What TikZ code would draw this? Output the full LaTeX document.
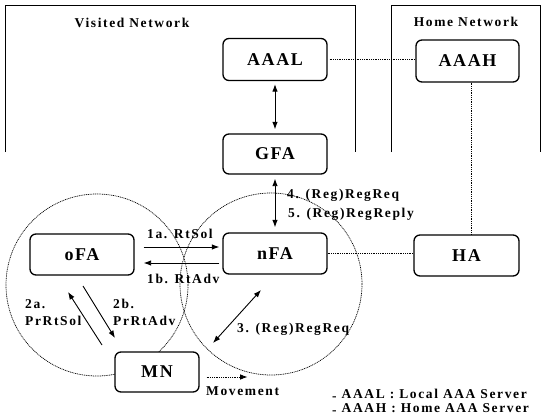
\documentclass[tikz,border=0pt]{standalone}
\usepackage{fontspec}
\setmainfont{Liberation Serif}
\newfontfamily\nodefont{Liberation Serif}[LetterSpace=9]
\newfontfamily\lblfont{Liberation Serif}[LetterSpace=12]
\usetikzlibrary{arrows.meta,calc}
\newcommand\lowdash{\raisebox{-0.22em}{-}}
\begin{document}
\begin{tikzpicture}[x=1pt,y=-1pt,
 box/.style={draw,line width=1.3pt,rounded corners=6pt,fill=white,minimum width=104pt,minimum height=42pt,inner sep=0pt,font=\nodefont\bfseries\fontsize{18}{18}\selectfont},
 arr/.style={line width=0.9pt,-{Latex[length=7.5pt,width=5.5pt]}},
 dbl/.style={line width=0.9pt,{Latex[length=7.5pt,width=5.5pt]}-{Latex[length=7.5pt,width=5.5pt]}},
 dot/.style={line width=0.7pt,dash pattern=on 1pt off 0.8pt},
 lbl/.style={font=\lblfont\bfseries\fontsize{13.5}{15}\selectfont, inner sep=0pt, anchor=base west},
 net/.style={line width=1pt}]
\useasboundingbox (0,0) rectangle (541,418);
\fill[white] (0,0) rectangle (541,418);
% network frames
\draw[net] (5,152) -- (5,5) -- (355,5) -- (355,152);
\draw[net] (391,152) -- (391,5) -- (540,5) -- (540,152);
\node[lbl,anchor=base] (vn) at (132,27) {Visited Network};
\node[lbl,anchor=base] (hn) at (466,26) {Home Network};
% cells
\draw[dot] (97,285) circle[radius=91pt];
\draw[dot] (271,284) circle[radius=91pt];
% nodes
\node[box] (AAAL) at (275,59.5) {AAAL};
\node[box,minimum width=103pt] (AAAH) at (467.5,61) {AAAH};
\node[box,minimum height=40pt] (GFA) at (275,154) {GFA};
\node[box,minimum height=41pt] (oFA) at (82,254.5) {oFA};
\node[box,minimum height=41pt] (nFA) at (275,253.5) {nFA};
\node[box,minimum width=105pt,minimum height=41pt] (HA) at (466.5,255.5) {HA};
\node[box,minimum width=84pt,minimum height=40pt] (MN) at (157,372) {MN};
% connectors
\draw[dbl,shorten <=3pt,shorten >=4pt] (AAAL) -- (GFA);
\draw[dbl,shorten <=4pt,shorten >=5pt] (GFA) -- (nFA);
\draw[dot,shorten <=2pt] (AAAL.east) -- (AAAL.east -| AAAH.west);
\draw[dot] ([xshift=4pt]AAAH.south) -- ([xshift=4pt]AAAH.south |- HA.north);
\draw[dot] (nFA.east) -- (nFA.east -| HA.west);
\draw[arr,shorten <=9pt,shorten >=3pt] ([yshift=7.5pt]oFA.east) -- ([yshift=7.5pt]oFA.east -| nFA.west);
\draw[arr,shorten <=3pt,shorten >=9pt] ([yshift=-8.5pt]oFA.east -| nFA.west) -- ([yshift=-8.5pt]oFA.east);
\coordinate (a2s) at (102,345); \coordinate (a2e) at (68,292);
\draw[arr] (a2s) -- (a2e);
\coordinate (b2s) at (83,286); \coordinate (b2e) at (115,338);
\draw[arr] (b2s) -- (b2e);
\coordinate (c3a) at (213,343); \coordinate (c3b) at (261,290);
\draw[dbl] (c3a) -- (c3b);
\draw[dot,arr] ([xshift=7pt,yshift=-5pt]MN.east) -- ++(41,0);
% labels
\node[lbl] (l1a) at (147,238) {1a. RtSol};
\node[lbl] (l1b) at (147,283) {1b. RtAdv};
\node[lbl] (l2a) at (25,308) {2a.};
\node[lbl] (l2a2) at (25,325) {PrRtSol};
\node[lbl] (l2b) at (113,308) {2b.};
\node[lbl] (l2b2) at (113,325) {PrRtAdv};
\node[lbl] (l3) at (237,332) {3. (Reg)RegReq};
\node[lbl] (l4) at (287,198) {4. (Reg)RegReq};
\node[lbl] (l5) at (288,217) {5. (Reg)RegReply};
\node[lbl] (mv) at (206,395) {Movement};
\node[lbl] (lg1) at (332,398) {\lowdash\ AAAL : Local AAA Server};
\node[lbl] (lg2) at (332,412) {\lowdash\ AAAH : Home AAA Server};
\end{tikzpicture}
\end{document}
